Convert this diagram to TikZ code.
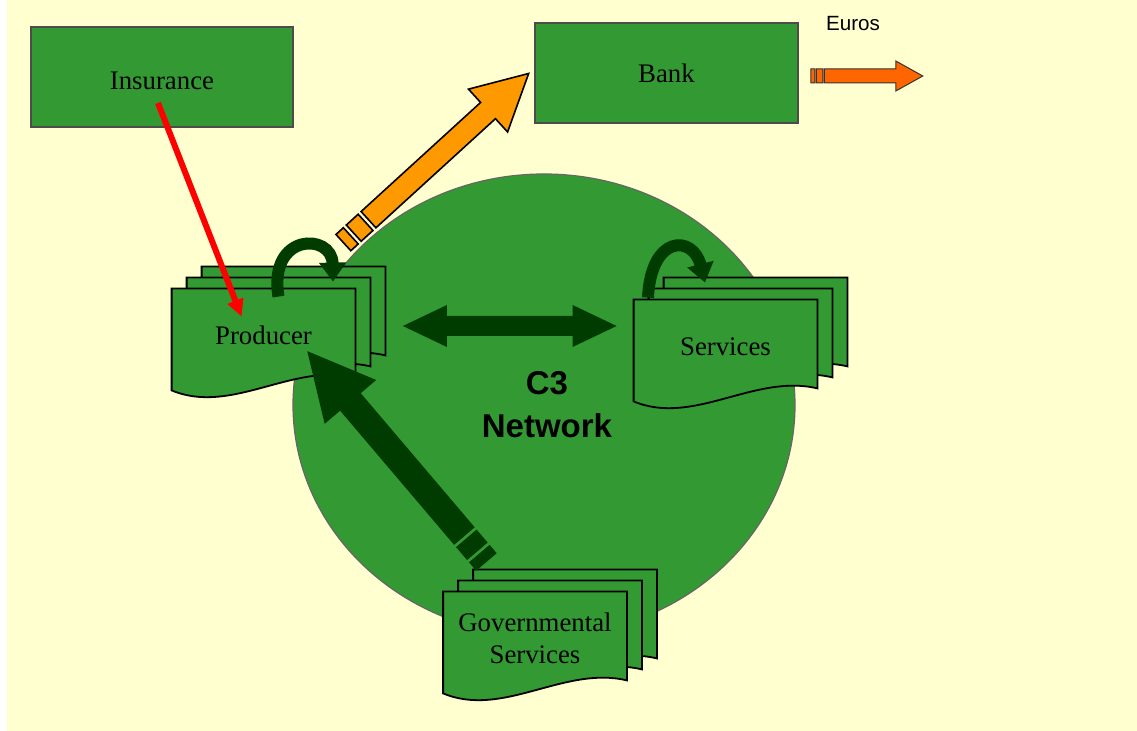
\documentclass[tikz,border=0pt]{standalone}
\usepackage{fontspec}
\setmainfont{Liberation Serif}
\setsansfont{Liberation Sans}
\usetikzlibrary{arrows.meta, calc, positioning}
\definecolor{bgyellow}{RGB}{255,255,208}
\definecolor{netgreen}{RGB}{51,153,51}
\definecolor{deepgreen}{RGB}{0,60,0}
\definecolor{bankorange}{RGB}{255,153,0}
\definecolor{euroorange}{RGB}{255,102,0}
\pgfdeclarelayer{bg}
\pgfdeclarelayer{sheets}
\pgfsetlayers{bg,sheets,main}
\tikzset{
  box/.style={draw=black!70, line width=0.8pt, fill=netgreen, minimum width=131pt, minimum height=50pt, font=\fontsize{13.4}{16}\selectfont},
  sheetnode/.style={minimum width=91.5pt, minimum height=50.5pt, inner sep=0pt, align=center, font=\fontsize{13.4}{16}\selectfont},
  sheet/.style={draw=black, line width=0.9pt, fill=netgreen},
  turnarrow/.style={draw=deepgreen, line width=6pt, -{Triangle[width=13pt,length=9.5pt]}},
  redarrow/.style={draw=red, line width=3pt, -{Triangle[width=8pt,length=8.5pt]}}
}
% one wavy sheet, shifted from the front sheet of a stack (sheet sits 4 below the label)
\newcommand{\docsheet}[3]{%
  \draw[sheet] ($(#1.north west)+(#2,#3+4)$) -- ($(#1.north east)+(#2,#3+4)$)
    -- ($(#1.south east)+(#2,#3-9)$)
    .. controls ($(#1.south east)+(#2-63,#3-24)$) and ($(#1.south west)+(#2+60,#3+29)$)
    .. ($(#1.south west)+(#2,#3+4)$) -- cycle;}
\newcommand{\sheetstack}[1]{\docsheet{#1}{30}{-22}\docsheet{#1}{15}{-11}\docsheet{#1}{0}{0}}
% block arrow with two stripes at its tail: style, from, to, shaft, head, head length, stripe
\newcommand{\stripearrow}[7]{%
  \path[#1] let \p1=($(#3)-(#2)$), \n1={atan2(\y1,\x1)}, \n2={veclen(\x1,\y1)} in
    {[shift={(#2)}, rotate=\n1]
     (0pt,{-#4*0.5pt}) -- ({#7*0.5pt},{-#4*0.5pt}) -- ({#7*0.5pt},{#4*0.5pt}) -- (0pt,{#4*0.5pt}) -- cycle
     ({1.4*#7*0.5pt},{-#4*0.5pt}) -- ({3*#7*0.5pt},{-#4*0.5pt}) -- ({3*#7*0.5pt},{#4*0.5pt}) -- ({1.4*#7*0.5pt},{#4*0.5pt}) -- cycle
     ({3.4*#7*0.5pt},{-#4*0.5pt}) -- ({\n2-#6*0.5pt},{-#4*0.5pt}) -- ({\n2-#6*0.5pt},{-#5*0.5pt}) -- (\n2,0pt)
       -- ({\n2-#6*0.5pt},{#5*0.5pt}) -- ({\n2-#6*0.5pt},{#4*0.5pt}) -- ({3.4*#7*0.5pt},{#4*0.5pt}) -- cycle};}
% block arrow with a head at both ends: style, from, to, shaft, head, head length
\newcommand{\botharrow}[6]{%
  \path[#1] let \p1=($(#3)-(#2)$), \n1={atan2(\y1,\x1)}, \n2={veclen(\x1,\y1)} in
    {[shift={(#2)}, rotate=\n1]
     (0pt,0pt) -- ({#6*0.5pt},{#5*0.5pt}) -- ({#6*0.5pt},{#4*0.5pt}) -- ({\n2-#6*0.5pt},{#4*0.5pt})
       -- ({\n2-#6*0.5pt},{#5*0.5pt}) -- (\n2,0pt) -- ({\n2-#6*0.5pt},{-#5*0.5pt}) -- ({\n2-#6*0.5pt},{-#4*0.5pt})
       -- ({#6*0.5pt},{-#4*0.5pt}) -- ({#6*0.5pt},{-#5*0.5pt}) -- cycle};}

\begin{document}
\begin{tikzpicture}[x=0.5pt, y=-0.5pt]
  \useasboundingbox (0,0) rectangle (1137,731);
  \begin{pgfonlayer}{bg}
    \fill[white] (0,0) rectangle (1137,731);
    \fill[bgyellow] (7,0) rectangle (1137,731);
    \draw[fill=netgreen, draw=black!60, line width=0.6pt] (544,405) ellipse [x radius=251, y radius=231];
  \end{pgfonlayer}

  % ═══ boxes on top ═══
  \node[box, text height=13pt, text depth=0pt] (insurance) at (162,77) {Insurance};
  \node[box, minimum width=131.5pt] (bank) at (666.5,73) {Bank};
  \node[font=\sffamily\fontsize{10.3}{12}\selectfont] (euros) at (853,24) {Euros};

  % ═══ network and its stacks ═══
  \node[font=\sffamily\bfseries\fontsize{16.5}{21.5}\selectfont, align=center] (network) at (547,405) {C3\\Network};
  \node[sheetnode] (producer) at (263.5,335.5) {Producer};
  \node[sheetnode] (services) at (725.5,346.5) {Services};
  \node[sheetnode] (govserv) at (535,638.5) {Governmental\\Services};
  \begin{pgfonlayer}{sheets}
    \sheetstack{producer}
    \sheetstack{services}
    \sheetstack{govserv}
  \end{pgfonlayer}

  % ═══ arrows ═══
  \coordinate (orTail) at ($(producer.north east)+(-12,-42)$);
  \coordinate (orTip) at ($(bank.west)+(-5,0)$);
  \stripearrow{fill=bankorange, draw=black, line width=0.8pt}{orTail}{orTip}{11}{29}{55}{10}

  \coordinate (euTail) at ($(bank.east)+(12,3)$);
  \coordinate (eurosEnd) at ($(bank.east)+(124,3)$);
  \stripearrow{fill=euroorange, draw=black!80, line width=0.5pt}{euTail}{eurosEnd}{7}{15}{27}{4}

  \coordinate (gvTail) at ($(govserv.north west)+(43,-26)$);
  \coordinate (gvTip) at ($(producer.center)+(44.5,16.5)$);
  \stripearrow{fill=deepgreen, draw=deepgreen, line width=0.5pt}{gvTail}{gvTip}{13}{33}{65}{10}

  \coordinate (dblLeft) at ($(producer.east)+(47.5,-9.5)$);
  \coordinate (dblRight) at ($(services.west)+(-17,-20.5)$);
  \botharrow{fill=deepgreen}{dblLeft}{dblRight}{10}{21}{44}

  \draw[turnarrow] ($(producer.north)+(15,12)$) .. controls ($(producer.north)+(4.5,-52)$) and ($(producer.north)+(68.5,-52)$) .. ($(producer.north)+(69.5,-3)$);
  \draw[turnarrow] ($(services.north)+(-77.5,2)$) .. controls ($(services.north)+(-74.5,-61)$) and ($(services.north)+(-32.5,-61)$) .. ($(services.north)+(-20.5,-13)$);

  \draw[redarrow] ($(insurance.center)+(-4,26)$) -- ($(producer.north west)+(70,32)$);
\end{tikzpicture}
\end{document}
